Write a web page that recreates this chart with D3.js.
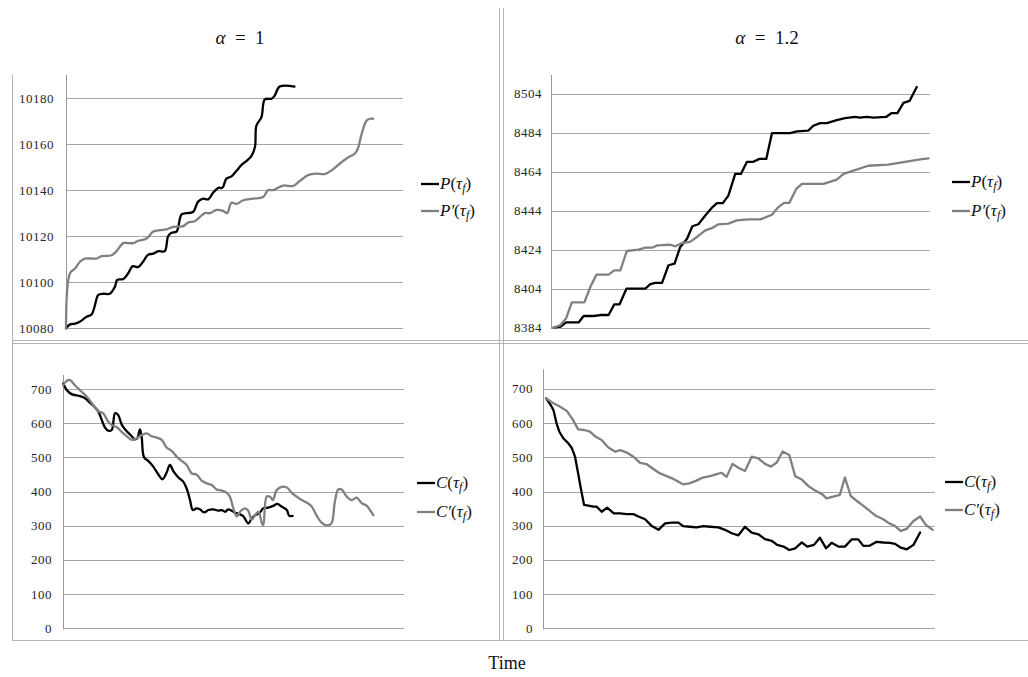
<!DOCTYPE html>
<html><head><meta charset="utf-8">
<script src="https://cdn.jsdelivr.net/npm/d3@7"></script>
<style>
html,body{margin:0;padding:0;background:#fff;}
svg{display:block;}
text{font-family:"Liberation Serif","DejaVu Serif",serif;}
</style></head>
<body>
<svg id="chart" width="1028" height="677"></svg>
<script>
// ---------------- DATA ----------------
const panelTitles = ["α = 1", "α = 1.2"];
const xAxisLabel = "Time";

// Top-left: alpha = 1, P(tau_f) and P'(tau_f)
const tlTicks = [10080, 10100, 10120, 10140, 10160, 10180];
const tlBlackT = [0,1.2,2.7,4.2,6.1,7.6,8.4,9.6,11.1,13.0,14.5,15.2,17.0,18.5,19.8,21.4,22.9,24.4,25.9,27.4,29.3,30.3,31.3,32.8,34.3,35.8,37.7,39.2,40.7,42.2,43.7,45.2,46.4,47.6,49.1,50.6,52.1,53.6,55.1,56.1,56.5,58.0,59.0,61.0,61.9,63.4,67.8];
const tlBlackV = [10080,10081.7,10082,10083,10085,10086,10089,10094.5,10095,10095,10098,10101,10101.4,10104,10107,10106.6,10109,10112,10112.4,10113.5,10113.5,10120,10121.5,10122,10129.5,10130,10130.5,10135,10136.3,10136,10139,10141,10141,10145,10146,10148.4,10151,10152.7,10155,10159,10168,10171.7,10179.4,10179.7,10181,10185,10185];
const tlGrayT = [0,1.2,2.7,4.2,5.6,9.1,10.6,13.5,15.0,17.0,18.5,20.0,21.4,23.9,25.9,27.9,29.8,31.8,34.8,36.3,38.2,41.2,42.7,44.7,46.6,47.8,49.1,50.6,52.6,55.5,58.5,60.0,61.5,64.4,67.4,69.4,71.8,74.3,76.8,79.2,81.7,83.7,85.6,86.6,87.6,89.1,90.1,91.1];
const tlGrayV = [10080,10104,10106,10109,10110.3,10110.3,10111.3,10111.7,10113.5,10117,10117,10117,10118,10119,10122,10122.6,10123,10124,10124.4,10126,10126.5,10130,10130,10131.4,10131,10130,10134.5,10134,10135.6,10136.3,10137,10140,10140,10142,10141.8,10144,10146.5,10147.2,10147,10149,10152,10154.2,10155.7,10158,10163.7,10170,10171,10171];

// Top-right: alpha = 1.2
const trTicks = [8384, 8404, 8424, 8444, 8464, 8484, 8504];
const trBlackT = [0.7,2.5,4.0,7.3,8.6,11.2,13.0,15.2,16.7,18.1,19.9,21.8,24.9,26.2,27.5,29.3,31.0,32.6,34.1,35.9,37.3,38.9,40.7,42.4,43.8,45.3,46.8,48.6,50.1,51.7,53.4,55.0,56.8,58.3,60.5,63.1,64.9,67.9,69.2,71.0,72.8,75.4,77.6,80.2,81.5,83.3,85.1,88.4,89.9,91.4,93.0,94.6,96.5];
const trBlackV = [8384,8384.5,8386.7,8386.7,8390,8390,8390.5,8390.5,8396,8396,8404,8404,8404,8406.3,8407,8407,8416,8416.8,8425.4,8429.6,8436,8437,8441.5,8445.4,8447.8,8447.8,8451.7,8462.8,8462.8,8469,8469,8470.5,8470.5,8483.7,8483.7,8483.7,8484.6,8485,8487.5,8488.8,8488.8,8490.4,8491.4,8492,8491.7,8492,8491.7,8492,8494,8494,8499.2,8500.2,8507.4];
const trGrayT = [0.7,2.5,4.0,5.5,8.8,10.4,12.0,15.2,16.7,18.3,20.0,23.1,24.9,26.7,28.0,31.5,32.8,34.6,36.7,38.5,40.7,42.4,44.2,46.8,49.0,52.1,55.2,58.3,60.0,61.5,62.9,64.7,66.2,71.9,75.4,77.2,79.8,83.7,89.0,93.0,97.4,99.6];
const trGrayV = [8384,8385.4,8388.8,8397,8397,8405,8411.2,8411.2,8413.4,8413.4,8423.3,8424,8425,8425,8426.2,8426.5,8425.7,8427.4,8428,8430.5,8433.9,8435,8437,8437.3,8439,8439.5,8439.5,8441.9,8445.8,8448,8448,8455.1,8457.7,8457.7,8459.9,8462.8,8464.5,8467,8467.6,8468.8,8470.3,8470.8];

// Bottom-left: alpha = 1, C(tau_f) and C'(tau_f)
const costTicks = [0, 100, 200, 300, 400, 500, 600, 700];
const blBlackT = [0,1.0,2.4,4.9,6.4,7.8,9.3,10.3,11.3,12.2,13.2,14.2,15.2,16.1,17.1,18.1,19.6,21.0,21.7,22.5,23.0,23.7,25.0,26.4,27.9,29.1,30.3,31.3,32.3,33.8,35.2,36.2,37.2,38.0,39.1,40.1,41.3,42.6,44.0,45.5,46.5,47.5,48.4,49.4,50.4,51.7,52.8,54.3,55.3,56.3,57.5,58.7,60.2,61.6,62.8,64.1,65.6,66.3,67.3];
const blBlackV = [716,697,685,679,673,660,646,634,609,588,578,580,629,624,597,582,567,553,556,582,560,500,489,473,450,436,455,478,460,441,429,409,375,346,351,348,339,346,348,344,346,341,348,344,338,334,328,307,322,331,336,351,353,358,364,356,346,329,329];
const blGrayT = [0,1.0,2.0,3.4,5.4,7.3,8.8,10.3,11.7,13.2,14.2,15.7,17.1,18.6,20.1,21.5,23.0,24.5,25.9,27.4,28.9,30.3,31.8,33.3,34.7,36.2,37.7,39.1,40.6,42.1,43.6,45.0,46.5,47.9,48.9,49.9,50.9,51.9,53.3,54.3,55.3,56.3,57.3,58.3,58.7,59.7,60.7,61.5,62.6,64.1,65.6,67.0,68.5,70.0,71.4,72.9,74.4,75.8,77.3,78.7,79.7,80.7,81.7,83.2,84.7,86.1,87.6,89.0,90.0,91.0];
const blGrayV = [711,724,726,711,692,673,653,635,629,604,595,588,575,562,551,556,565,570,562,558,551,529,519,502,490,478,453,450,432,424,419,406,403,397,385,351,327,341,351,344,317,331,341,307,302,385,385,375,404,414,412,397,385,375,368,356,329,309,301,307,370,406,406,385,375,382,366,359,346,331];

// Bottom-right: alpha = 1.2
const brBlackT = [0.7,1.9,2.6,3.4,4.1,5.1,6.4,7.2,8.1,8.9,9.5,10.4,11.5,12.8,13.6,14.9,16.3,18.0,19.6,21.3,23.0,24.3,26.0,27.7,29.4,31.1,32.8,34.5,35.7,37.4,39.1,40.9,42.6,44.7,46.4,48.1,49.8,51.5,53.2,54.9,56.6,58.3,59.7,61.3,62.8,64.3,66.0,67.4,69.1,70.6,72.2,73.6,75.3,77.0,78.7,80.4,81.7,83.4,85.1,86.8,88.5,89.8,91.1,92.8,94.5,96.2];
const brBlackV = [673,653,638,599,575,556,541,529,502,453,414,361,359,356,356,341,353,336,336,334,334,327,319,299,288,307,309,309,299,297,295,299,297,295,288,278,272,297,280,275,261,256,244,239,229,234,251,239,244,265,234,250,239,239,260,260,241,242,253,251,250,247,237,231,244,280];
const brGrayT = [0.7,2.6,4.3,6.0,7.5,8.9,10.4,11.9,13.4,14.9,16.6,18.3,19.7,21.3,23.0,24.7,26.4,28.1,29.8,31.5,33.2,34.5,35.7,37.3,39.1,40.7,42.6,44.3,45.5,46.8,48.3,50.0,51.5,53.2,54.9,56.6,58.1,59.6,61.1,62.8,64.3,66.0,67.7,69.4,71.1,72.3,74.0,75.7,77.0,78.5,80.0,81.7,83.4,84.9,86.8,88.3,89.8,91.2,92.8,94.5,96.2,97.7,99.4];
const brGrayV = [673,658,648,636,611,582,580,575,560,551,529,517,521,514,502,484,480,466,453,445,437,429,421,424,432,441,445,451,455,443,481,468,460,502,497,481,473,485,517,507,445,435,416,403,393,380,385,390,441,387,373,358,343,329,319,307,299,285,291,314,327,302,288];

const seriesColors = ["#000000", "#808080"];

// ---------------- LAYOUT ----------------
const svg = d3.select("#chart");
const gridColor = "#a6a6a6";
const frameColor = "#b4b4b4";

const panels = [
  {x0:66, x1:403, y0:75, y1:328.3, ymax:10190, ymin:10080, ticks:tlTicks, labelX:54,
   series:[[tlBlackT,tlBlackV],[tlGrayT,tlGrayV]], curve:d3.curveCatmullRom.alpha(0.5),
   legend:{x:421, y:[184,211], sym:"P"}},
  {x0:551, x1:930, y0:75, y1:327.7, ymax:8513.5, ymin:8384, ticks:trTicks, labelX:542,
   series:[[trBlackT,trBlackV],[trGrayT,trGrayV]], curve:d3.curveLinear,
   legend:{x:952, y:[182,211], sym:"P"}},
  {x0:63.3, x1:404, y0:375, y1:628.3, ymax:741, ymin:0, ticks:costTicks, labelX:52,
   series:[[blBlackT,blBlackV],[blGrayT,blGrayV]], curve:d3.curveCatmullRom.alpha(0.5),
   legend:{x:417, y:[483,512], sym:"C"}},
  {x0:543.3, x1:935, y0:369.3, y1:628.3, ymax:757.6, ymin:0, ticks:costTicks, labelX:533,
   series:[[brBlackT,brBlackV],[brGrayT,brGrayV]], curve:d3.curveLinear,
   legend:{x:945, y:[482,510], sym:"C"}}
];

// frame lines
const frame = svg.append("g").attr("stroke", frameColor).attr("stroke-width", 1).attr("fill", "none");
[[12.5,75,12.5,640.5],[499.5,8,499.5,640.5],[503.5,8,503.5,640.5],
 [12,340.5,1028,340.5],[12,343.5,1028,343.5],[12,640.5,1028,640.5]].forEach(l=>{
  frame.append("line").attr("x1",l[0]).attr("y1",l[1]).attr("x2",l[2]).attr("y2",l[3]);
});

panels.forEach(p => {
  const x = d3.scaleLinear().domain([0,100]).range([p.x0, p.x1]);
  const y = d3.scaleLinear().domain([p.ymin, p.ymax]).range([p.y1, p.y0]);
  const g = svg.append("g");

  // gridlines
  g.append("g").selectAll("line").data(p.ticks).join("line")
    .attr("x1", p.x0).attr("x2", p.x1)
    .attr("y1", d => Math.round(y(d)) + 0.5).attr("y2", d => Math.round(y(d)) + 0.5)
    .attr("stroke", gridColor).attr("stroke-width", 1);

  // y axis line
  g.append("line").attr("x1", Math.round(p.x0)+0.5).attr("x2", Math.round(p.x0)+0.5)
    .attr("y1", p.y0).attr("y2", p.y1 + 1)
    .attr("stroke", "#999").attr("stroke-width", 1);

  // tick labels
  g.append("g").selectAll("text").data(p.ticks).join("text")
    .attr("x", p.labelX).attr("y", d => y(d) + 4.5)
    .attr("text-anchor", "end").attr("font-size", 13).attr("letter-spacing", 0.5)
    .attr("fill", "#262626").text(d => d);

  // lines
  const line = d3.line().x(d => x(d[0])).y(d => y(d[1])).curve(p.curve);
  p.series.forEach((s, i) => {
    g.append("path").datum(d3.zip(s[0], s[1]))
      .attr("fill", "none").attr("stroke", seriesColors[i])
      .attr("stroke-width", 2.3).attr("stroke-linejoin", "round").attr("stroke-linecap", "round")
      .attr("d", line);
  });

  // legend
  p.legend.y.forEach((ly, i) => {
    g.append("line").attr("x1", p.legend.x).attr("x2", p.legend.x + 18)
      .attr("y1", ly).attr("y2", ly).attr("stroke", seriesColors[i]).attr("stroke-width", 2.3);
    const t = g.append("text").attr("x", p.legend.x + 19).attr("y", ly + 5)
      .attr("font-size", 17).attr("fill", "#111");
    t.append("tspan").attr("font-style", "italic").text(p.legend.sym + (i === 1 ? "′" : ""));
    t.append("tspan").text("(");
    t.append("tspan").attr("font-style", "italic").text("τ");
    t.append("tspan").attr("font-style", "italic").attr("font-size", 12).attr("dy", 3).text("f");
    t.append("tspan").attr("dy", -3).text(")");
  });
});

// titles
[[240, panelTitles[0]], [767, panelTitles[1]]].forEach(([cx, s]) => {
  const parts = s.split(" = ");
  const t = svg.append("text").attr("x", cx).attr("y", 44).attr("text-anchor", "middle")
    .attr("font-size", 19).attr("fill", "#111").attr("xml:space", "preserve");
  t.append("tspan").attr("font-style", "italic").text(parts[0]);
  t.append("tspan").text("  =  " + parts[1]);
});

svg.append("text").attr("x", 507).attr("y", 669).attr("text-anchor", "middle")
  .attr("font-size", 18).attr("fill", "#111").text(xAxisLabel);
</script>
</body></html>
